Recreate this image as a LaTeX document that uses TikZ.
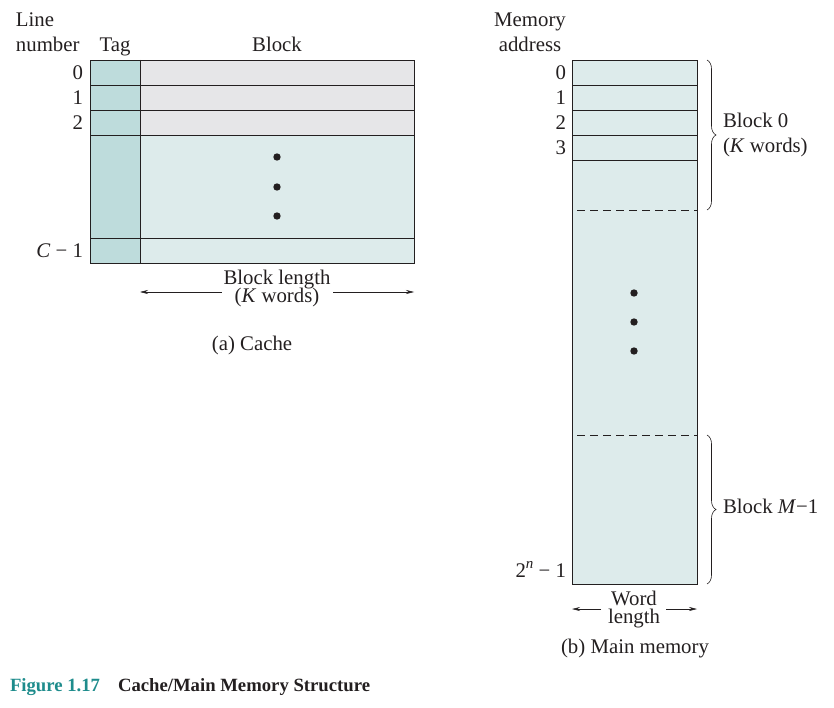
\documentclass[tikz,border=0pt]{standalone}
\usepackage{fontspec}
\setmainfont{Liberation Serif}
\usetikzlibrary{arrows.meta,decorations.pathreplacing}
\definecolor{tagfill}{HTML}{BEDCDC}
\definecolor{linefill}{HTML}{DDEBEB}
\definecolor{headfill}{HTML}{E6E6E8}
\definecolor{figteal}{HTML}{1E8C8C}
\definecolor{ink}{HTML}{231F20}
\newcommand\supit[1]{\raisebox{0.42em}{\fontsize{15}{15}\selectfont\itshape #1}}
\newcommand\tightlines{\lineskiplimit -20pt\relax}
\tikzset{%
  >={Stealth[length=8pt,width=4pt]}, % thin arrow tips
  lbl/.style={inner sep=0pt,outer sep=0pt,anchor=base,text=ink,
    font=\fontsize{20.8}{24}\selectfont},%
  tightlbl/.style={lbl,align=center,
    font=\fontsize{20.8}{18}\selectfont\tightlines},% base = last line
  caplbl/.style={lbl,anchor=base west,font=\fontsize{18.7}{22}\selectfont\bfseries},%
  frame/.style={draw=ink,line width=0.9pt},%
  rowline/.style={draw=ink,line width=0.7pt},%
  dimline/.style={draw=ink,line width=0.6pt},%
  brace/.style={draw=ink,line width=0.6pt,decorate,
    decoration={brace,amplitude=9pt}}%
}

\begin{document}
\begin{tikzpicture}[x=1pt,y=-1pt] % pixel grid, y downwards

%% some definitions

\def\cL{90} % cache left edge
\def\cT{140} % tag / block divider
\def\cR{414} % cache right edge
\def\mL{572} % memory left edge
\def\mR{697} % memory right edge

\useasboundingbox (0,0) rectangle (834,708);

%% (a) cache

\fill[headfill] (\cT,60) rectangle (\cR,135);
\fill[linefill] (\cT,135) rectangle (\cR,263);
\fill[tagfill] (\cL,60) rectangle (\cT,263);
\foreach \y in {85,110,135,238}
  \draw[rowline] (\cL,\y) -- (\cR,\y);
\draw[frame] (\cL,60) rectangle (\cR,263);
\draw[frame] (\cT,60) -- (\cT,263);

\node[lbl,anchor=base west] (line) at (16,27) {Line};
\node[lbl,anchor=base west] (number) at (16,52) {number};
\node[lbl] (tag) at (115,52) {Tag};
\node[lbl] (block) at (277,52) {Block};
\foreach \i/\y in {0/80,1/105,2/130}
  \node[lbl,anchor=base east] (cl\i) at (83,\y) {\i};
\node[lbl,anchor=base east] (cl-last) at (83,258) {\textit{C} − 1};

\foreach \y in {157,187,216}
  \fill[ink] (277,\y) circle (3.7pt);

% block length
\coordinate (bl-l) at (\cT,292);
\coordinate (bl-r) at (\cR,292);
\node[tightlbl] (blen) at (277,302) {Block length\\(\textit{K} words)};
\draw[dimline,->] ([xshift=-2pt]blen.west |- bl-l) -- (bl-l);
\draw[dimline,->] ([xshift=3pt]blen.east |- bl-r) -- (bl-r);

\node[lbl] (cap-a) at (252,350) {(a) Cache};

%% (b) main memory

\fill[linefill] (\mL,60) rectangle (\mR,584);
\foreach \y in {85,110,135,160}
  \draw[rowline] (\mL,\y) -- (\mR,\y);
\foreach \y in {210,435}
  \draw[rowline,dash pattern=on 8pt off 5pt] (577,\y) -- (\mR,\y);
\draw[frame] (\mL,60) rectangle (\mR,584);

\node[lbl] (memory) at (530,27) {Memory};
\node[lbl] (address) at (530,52) {address};
\foreach \i in {0,...,3}
  \node[lbl,anchor=base east] (ma\i) at (566,{80+25*\i}) {\i};
\node[lbl,anchor=base east] (ma-last) at (566,577) {2\supit{n} − 1};

\foreach \y in {293,322,351}
  \fill[ink] (634,\y) circle (3.7pt);

% blocks
\draw[brace] (707,60) -- (707,210);
\node[lbl,anchor=base west] (blk0) at (723,128) {Block 0};
\node[lbl,anchor=base west] (blk0w) at (723,153) {(\textit{K} words)};
\draw[brace] (707,435) -- (707,584);
\node[lbl,anchor=base west] (blkm) at (723,513) {Block \textit{M}−1};

% word length
\coordinate (wl-l) at (\mL,609);
\coordinate (wl-r) at (\mR,609);
\node[tightlbl] (wlen) at (634,623) {Word\\length};
\draw[dimline,->] ([xshift=-7pt]wlen.west |- wl-l) -- (wl-l);
\draw[dimline,->] ([xshift=6pt]wlen.east |- wl-r) -- (wl-r);

\node[lbl] (cap-b) at (635,653) {(b) Main memory};

%% figure caption

\node[caplbl,text=figteal] (fignum) at (10,691) {Figure 1.17};
\node[caplbl] (figtitle) at (118,691) {Cache/Main Memory Structure};

\end{tikzpicture}
\end{document}
